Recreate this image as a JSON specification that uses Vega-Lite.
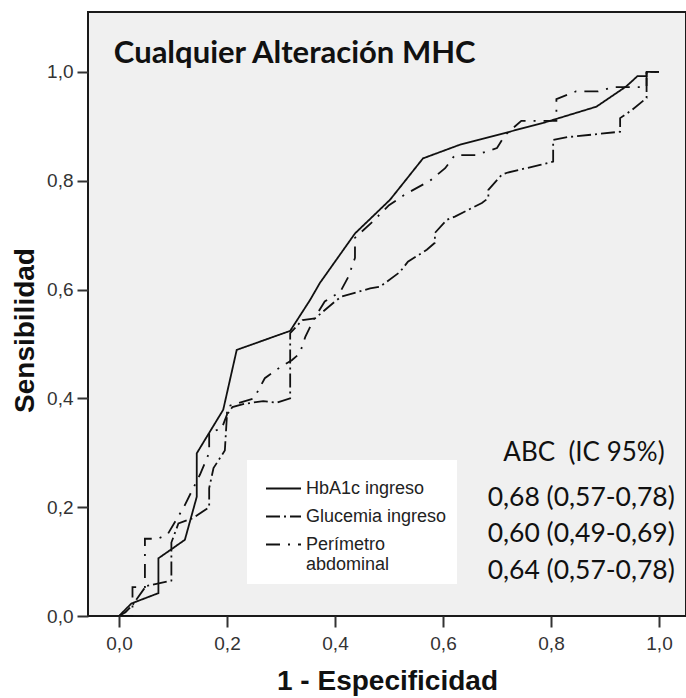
{
  "$schema": "https://vega.github.io/schema/vega-lite/v6.json",
  "width": 598,
  "height": 604,
  "autosize": {"type": "none"},
  "padding": {"left": 88, "top": 12, "right": 0, "bottom": 82},
  "background": "white",
  "config": {
    "view": {"fill": "#f0f0f0", "stroke": "#1a1a1a", "strokeWidth": 2},
    "axis": {
      "grid": false,
      "domain": false,
      "tickSize": 11,
      "tickWidth": 2,
      "tickColor": "#333333",
      "labelFont": "Liberation Sans",
      "labelFontSize": 19,
      "labelColor": "#333333",
      "titleFont": "Liberation Sans",
      "titleFontSize": 28,
      "titleFontWeight": "bold",
      "titleColor": "#111111"
    },
    "legend": {
      "orient": "none",
      "legendX": 159,
      "legendY": 448,
      "fillColor": "white",
      "padding": 10,
      "symbolType": "stroke",
      "symbolSize": 1225,
      "symbolStrokeWidth": 2,
      "symbolStrokeColor": "#111111",
      "symbolOffset": 8,
      "labelFont": "Liberation Sans",
      "labelFontSize": 18,
      "labelColor": "#222222",
      "labelOffset": 4,
      "labelLimit": 300,
      "rowPadding": -3
    }
  },
  "datasets": {
    "roc": [
      {"serie": "HbA1c ingreso", "i": 0, "fpr": 0, "sens": 0},
      {"serie": "HbA1c ingreso", "i": 1, "fpr": 0.023, "sens": 0.023},
      {"serie": "HbA1c ingreso", "i": 2, "fpr": 0.073, "sens": 0.042},
      {"serie": "HbA1c ingreso", "i": 3, "fpr": 0.073, "sens": 0.106},
      {"serie": "HbA1c ingreso", "i": 4, "fpr": 0.122, "sens": 0.14},
      {"serie": "HbA1c ingreso", "i": 5, "fpr": 0.144, "sens": 0.219},
      {"serie": "HbA1c ingreso", "i": 6, "fpr": 0.144, "sens": 0.299},
      {"serie": "HbA1c ingreso", "i": 7, "fpr": 0.193, "sens": 0.379},
      {"serie": "HbA1c ingreso", "i": 8, "fpr": 0.218, "sens": 0.489},
      {"serie": "HbA1c ingreso", "i": 9, "fpr": 0.317, "sens": 0.524},
      {"serie": "HbA1c ingreso", "i": 10, "fpr": 0.354, "sens": 0.581},
      {"serie": "HbA1c ingreso", "i": 11, "fpr": 0.372, "sens": 0.612},
      {"serie": "HbA1c ingreso", "i": 12, "fpr": 0.437, "sens": 0.703},
      {"serie": "HbA1c ingreso", "i": 13, "fpr": 0.502, "sens": 0.765},
      {"serie": "HbA1c ingreso", "i": 14, "fpr": 0.563, "sens": 0.841},
      {"serie": "HbA1c ingreso", "i": 15, "fpr": 0.631, "sens": 0.866},
      {"serie": "HbA1c ingreso", "i": 16, "fpr": 0.785, "sens": 0.906},
      {"serie": "HbA1c ingreso", "i": 17, "fpr": 0.884, "sens": 0.936},
      {"serie": "HbA1c ingreso", "i": 18, "fpr": 0.939, "sens": 0.973},
      {"serie": "HbA1c ingreso", "i": 19, "fpr": 0.96, "sens": 0.992},
      {"serie": "HbA1c ingreso", "i": 20, "fpr": 0.977, "sens": 0.992},
      {"serie": "HbA1c ingreso", "i": 21, "fpr": 0.977, "sens": 1.0},
      {"serie": "HbA1c ingreso", "i": 22, "fpr": 1.0, "sens": 1.0},

      {"serie": "Glucemia ingreso", "i": 0, "fpr": 0, "sens": 0},
      {"serie": "Glucemia ingreso", "i": 1, "fpr": 0.012, "sens": 0.007},
      {"serie": "Glucemia ingreso", "i": 2, "fpr": 0.025, "sens": 0.02},
      {"serie": "Glucemia ingreso", "i": 3, "fpr": 0.05, "sens": 0.055},
      {"serie": "Glucemia ingreso", "i": 4, "fpr": 0.097, "sens": 0.065},
      {"serie": "Glucemia ingreso", "i": 5, "fpr": 0.097, "sens": 0.135},
      {"serie": "Glucemia ingreso", "i": 6, "fpr": 0.11, "sens": 0.17},
      {"serie": "Glucemia ingreso", "i": 7, "fpr": 0.137, "sens": 0.18},
      {"serie": "Glucemia ingreso", "i": 8, "fpr": 0.167, "sens": 0.2},
      {"serie": "Glucemia ingreso", "i": 9, "fpr": 0.167, "sens": 0.235},
      {"serie": "Glucemia ingreso", "i": 10, "fpr": 0.175, "sens": 0.272},
      {"serie": "Glucemia ingreso", "i": 11, "fpr": 0.196, "sens": 0.304},
      {"serie": "Glucemia ingreso", "i": 12, "fpr": 0.2, "sens": 0.37},
      {"serie": "Glucemia ingreso", "i": 13, "fpr": 0.21, "sens": 0.384},
      {"serie": "Glucemia ingreso", "i": 14, "fpr": 0.233, "sens": 0.39},
      {"serie": "Glucemia ingreso", "i": 15, "fpr": 0.267, "sens": 0.395},
      {"serie": "Glucemia ingreso", "i": 16, "fpr": 0.292, "sens": 0.392},
      {"serie": "Glucemia ingreso", "i": 17, "fpr": 0.317, "sens": 0.4},
      {"serie": "Glucemia ingreso", "i": 18, "fpr": 0.317, "sens": 0.52},
      {"serie": "Glucemia ingreso", "i": 19, "fpr": 0.34, "sens": 0.544},
      {"serie": "Glucemia ingreso", "i": 20, "fpr": 0.363, "sens": 0.547},
      {"serie": "Glucemia ingreso", "i": 21, "fpr": 0.4, "sens": 0.578},
      {"serie": "Glucemia ingreso", "i": 22, "fpr": 0.412, "sens": 0.587},
      {"serie": "Glucemia ingreso", "i": 23, "fpr": 0.465, "sens": 0.602},
      {"serie": "Glucemia ingreso", "i": 24, "fpr": 0.483, "sens": 0.605},
      {"serie": "Glucemia ingreso", "i": 25, "fpr": 0.52, "sens": 0.632},
      {"serie": "Glucemia ingreso", "i": 26, "fpr": 0.535, "sens": 0.651},
      {"serie": "Glucemia ingreso", "i": 27, "fpr": 0.57, "sens": 0.673},
      {"serie": "Glucemia ingreso", "i": 28, "fpr": 0.585, "sens": 0.686},
      {"serie": "Glucemia ingreso", "i": 29, "fpr": 0.585, "sens": 0.704},
      {"serie": "Glucemia ingreso", "i": 30, "fpr": 0.607, "sens": 0.728},
      {"serie": "Glucemia ingreso", "i": 31, "fpr": 0.622, "sens": 0.734},
      {"serie": "Glucemia ingreso", "i": 32, "fpr": 0.672, "sens": 0.759},
      {"serie": "Glucemia ingreso", "i": 33, "fpr": 0.684, "sens": 0.768},
      {"serie": "Glucemia ingreso", "i": 34, "fpr": 0.684, "sens": 0.783},
      {"serie": "Glucemia ingreso", "i": 35, "fpr": 0.709, "sens": 0.811},
      {"serie": "Glucemia ingreso", "i": 36, "fpr": 0.72, "sens": 0.815},
      {"serie": "Glucemia ingreso", "i": 37, "fpr": 0.78, "sens": 0.829},
      {"serie": "Glucemia ingreso", "i": 38, "fpr": 0.804, "sens": 0.835},
      {"serie": "Glucemia ingreso", "i": 39, "fpr": 0.804, "sens": 0.875},
      {"serie": "Glucemia ingreso", "i": 40, "fpr": 0.83, "sens": 0.88},
      {"serie": "Glucemia ingreso", "i": 41, "fpr": 0.88, "sens": 0.885},
      {"serie": "Glucemia ingreso", "i": 42, "fpr": 0.928, "sens": 0.89},
      {"serie": "Glucemia ingreso", "i": 43, "fpr": 0.928, "sens": 0.915},
      {"serie": "Glucemia ingreso", "i": 44, "fpr": 0.95, "sens": 0.93},
      {"serie": "Glucemia ingreso", "i": 45, "fpr": 0.977, "sens": 0.952},
      {"serie": "Glucemia ingreso", "i": 46, "fpr": 0.977, "sens": 1.0},
      {"serie": "Glucemia ingreso", "i": 47, "fpr": 1.0, "sens": 1.0},

      {"serie": "Perímetro abdominal", "i": 0, "fpr": 0, "sens": 0},
      {"serie": "Perímetro abdominal", "i": 1, "fpr": 0.025, "sens": 0},
      {"serie": "Perímetro abdominal", "i": 2, "fpr": 0.025, "sens": 0.053},
      {"serie": "Perímetro abdominal", "i": 3, "fpr": 0.048, "sens": 0.053},
      {"serie": "Perímetro abdominal", "i": 4, "fpr": 0.048, "sens": 0.142},
      {"serie": "Perímetro abdominal", "i": 5, "fpr": 0.072, "sens": 0.142},
      {"serie": "Perímetro abdominal", "i": 6, "fpr": 0.09, "sens": 0.15},
      {"serie": "Perímetro abdominal", "i": 7, "fpr": 0.12, "sens": 0.2},
      {"serie": "Perímetro abdominal", "i": 8, "fpr": 0.15, "sens": 0.26},
      {"serie": "Perímetro abdominal", "i": 9, "fpr": 0.167, "sens": 0.3},
      {"serie": "Perímetro abdominal", "i": 10, "fpr": 0.167, "sens": 0.338},
      {"serie": "Perímetro abdominal", "i": 11, "fpr": 0.19, "sens": 0.344},
      {"serie": "Perímetro abdominal", "i": 12, "fpr": 0.2, "sens": 0.37},
      {"serie": "Perímetro abdominal", "i": 13, "fpr": 0.2, "sens": 0.385},
      {"serie": "Perímetro abdominal", "i": 14, "fpr": 0.25, "sens": 0.4},
      {"serie": "Perímetro abdominal", "i": 15, "fpr": 0.27, "sens": 0.437},
      {"serie": "Perímetro abdominal", "i": 16, "fpr": 0.301, "sens": 0.459},
      {"serie": "Perímetro abdominal", "i": 17, "fpr": 0.32, "sens": 0.47},
      {"serie": "Perímetro abdominal", "i": 18, "fpr": 0.335, "sens": 0.483},
      {"serie": "Perímetro abdominal", "i": 19, "fpr": 0.345, "sens": 0.513},
      {"serie": "Perímetro abdominal", "i": 20, "fpr": 0.36, "sens": 0.544},
      {"serie": "Perímetro abdominal", "i": 21, "fpr": 0.381, "sens": 0.578},
      {"serie": "Perímetro abdominal", "i": 22, "fpr": 0.41, "sens": 0.596},
      {"serie": "Perímetro abdominal", "i": 23, "fpr": 0.425, "sens": 0.624},
      {"serie": "Perímetro abdominal", "i": 24, "fpr": 0.437, "sens": 0.658},
      {"serie": "Perímetro abdominal", "i": 25, "fpr": 0.437, "sens": 0.695},
      {"serie": "Perímetro abdominal", "i": 26, "fpr": 0.47, "sens": 0.725},
      {"serie": "Perímetro abdominal", "i": 27, "fpr": 0.5, "sens": 0.755},
      {"serie": "Perímetro abdominal", "i": 28, "fpr": 0.53, "sens": 0.775},
      {"serie": "Perímetro abdominal", "i": 29, "fpr": 0.576, "sens": 0.8},
      {"serie": "Perímetro abdominal", "i": 30, "fpr": 0.604, "sens": 0.823},
      {"serie": "Perímetro abdominal", "i": 31, "fpr": 0.622, "sens": 0.847},
      {"serie": "Perímetro abdominal", "i": 32, "fpr": 0.66, "sens": 0.847},
      {"serie": "Perímetro abdominal", "i": 33, "fpr": 0.7, "sens": 0.86},
      {"serie": "Perímetro abdominal", "i": 34, "fpr": 0.715, "sens": 0.884},
      {"serie": "Perímetro abdominal", "i": 35, "fpr": 0.745, "sens": 0.91},
      {"serie": "Perímetro abdominal", "i": 36, "fpr": 0.81, "sens": 0.91},
      {"serie": "Perímetro abdominal", "i": 37, "fpr": 0.81, "sens": 0.95},
      {"serie": "Perímetro abdominal", "i": 38, "fpr": 0.846, "sens": 0.964},
      {"serie": "Perímetro abdominal", "i": 39, "fpr": 0.887, "sens": 0.964},
      {"serie": "Perímetro abdominal", "i": 40, "fpr": 0.915, "sens": 0.972},
      {"serie": "Perímetro abdominal", "i": 41, "fpr": 0.977, "sens": 0.972},
      {"serie": "Perímetro abdominal", "i": 42, "fpr": 0.977, "sens": 1.0},
      {"serie": "Perímetro abdominal", "i": 43, "fpr": 1.0, "sens": 1.0}
    ]
  },
  "layer": [
    {
      "data": {"name": "roc"},
      "mark": {"type": "line", "color": "#111111", "strokeWidth": 1.8, "clip": true},
      "encoding": {
        "x": {
          "field": "fpr",
          "type": "quantitative",
          "scale": {"domain": [-0.0574, 1.05], "nice": false, "zero": false},
          "axis": {
            "values": [0, 0.2, 0.4, 0.6, 0.8, 1.0],
            "labelExpr": "replace(format(datum.value, '.1f'), '.', ',')",
            "title": "1 - Especificidad",
            "labelPadding": 7,
            "titleBaseline": "alphabetic",
            "titleY": 73
          }
        },
        "y": {
          "field": "sens",
          "type": "quantitative",
          "scale": {"domain": [0, 1.11], "nice": false, "zero": false},
          "axis": {
            "values": [0, 0.2, 0.4, 0.6, 0.8, 1.0],
            "labelExpr": "replace(format(datum.value, '.1f'), '.', ',')",
            "title": "Sensibilidad",
            "labelPadding": 4,
            "titleAngle": -90,
            "titleBaseline": "alphabetic",
            "titleAlign": "center",
            "titleX": -55,
            "titleY": 318
          }
        },
        "strokeDash": {
          "field": "serie",
          "type": "nominal",
          "scale": {
            "domain": ["HbA1c ingreso", "Glucemia ingreso", "Perímetro abdominal"],
            "range": [[1, 0], [14, 4, 2, 4], [14, 8, 2, 8]]
          },
          "legend": {
            "title": null,
            "labelExpr": "datum.label == 'Perímetro abdominal' ? ['Perímetro', 'abdominal'] : datum.label",
            "labelLineHeight": 23
          }
        },
        "order": {"field": "i", "type": "quantitative"}
      }
    },
    {
      "data": {"values": [{}]},
      "mark": {"type": "text", "text": "Cualquier Alteración MHC", "font": "Lato", "fontSize": 31, "fontWeight": "bold", "align": "left", "baseline": "alphabetic", "color": "#111111"},
      "encoding": {"x": {"datum": -0.0095}, "y": {"datum": 1.0165}}
    },
    {
      "data": {"values": [{}]},
      "mark": {"type": "text", "text": "ABC \u00a0(IC 95%)", "font": "Lato", "fontSize": 26, "align": "center", "baseline": "alphabetic", "color": "#111111"},
      "encoding": {"x": {"datum": 0.861}, "y": {"datum": 0.2855}}
    },
    {
      "data": {"values": [{}]},
      "mark": {"type": "text", "text": ["0,68 (0,57-0,78)", "0,60 (0,49-0,69)", "0,64 (0,57-0,78)"], "font": "Lato", "fontSize": 26.5, "lineHeight": 36.7, "align": "center", "baseline": "alphabetic", "color": "#111111"},
      "encoding": {"x": {"datum": 0.856}, "y": {"datum": 0.2028}}
    }
  ]
}
